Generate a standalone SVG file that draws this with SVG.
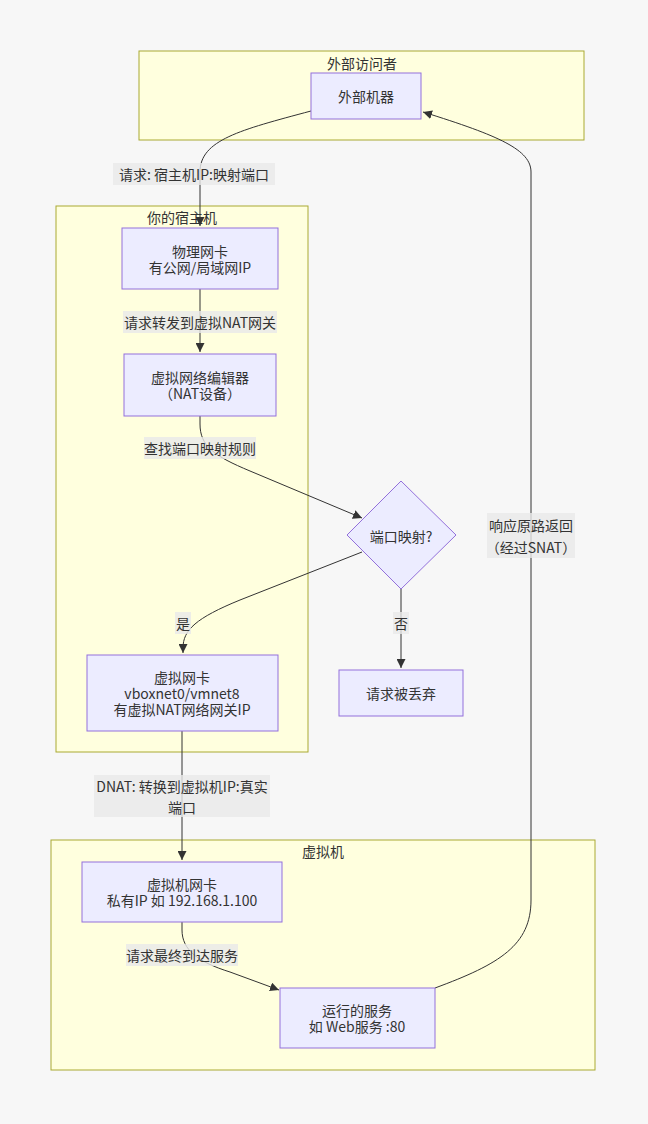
<svg xmlns="http://www.w3.org/2000/svg" width="648" height="1124" viewBox="0 0 648 1124">
<defs>
<style>
text{font-family:"Noto Sans CJK SC","Liberation Sans",sans-serif;font-size:14px;fill:#333;text-anchor:middle;dominant-baseline:central}
.cluster{fill:#ffffde;stroke:#aaaa33;stroke-width:1}
.node{fill:#ececff;stroke:#9370db;stroke-width:1}
.edge{fill:none;stroke:#333;stroke-width:1}
.lbl{fill:#e8e8e8;fill-opacity:0.8;stroke:none}
</style>
<marker id="arrow" viewBox="0 0 10 10" refX="10" refY="5" markerWidth="9" markerHeight="9" markerUnits="userSpaceOnUse" orient="auto">
<path d="M0,0 L10,5 L0,10 z" fill="#333"/>
</marker>
</defs>
<rect width="648" height="1124" fill="#f7f7f7"/>

<g id="cluster-external">
<rect class="cluster" x="139" y="51" width="445" height="89"/>
<text x="362" y="63">外部访问者</text>
</g>
<g id="cluster-host">
<rect class="cluster" x="56" y="206" width="252" height="546"/>
<text x="182" y="217">你的宿主机</text>
</g>
<g id="cluster-vm">
<rect class="cluster" x="51" y="840" width="544" height="230"/>
<text x="323" y="851">虚拟机</text>
</g>

<g id="connectors">
<path class="edge" d="M311,111 C240,130 200,140 200,172 L200,226" marker-end="url(#arrow)"/>
<path class="edge" d="M200,289 L200,352" marker-end="url(#arrow)"/>
<path class="edge" d="M200,416 L200,424 C200,446 214,456 250,471 L362,518" marker-end="url(#arrow)"/>
<path class="edge" d="M362,552 L240,600 C196,618 183,630 183,648 L183,653" marker-end="url(#arrow)"/>
<path class="edge" d="M401,589 L401,668" marker-end="url(#arrow)"/>
<path class="edge" d="M182,731 L182,860" marker-end="url(#arrow)"/>
<path class="edge" d="M182,922 L182,930 C182,950 198,962 230,972 L279,990" marker-end="url(#arrow)"/>
<path class="edge" d="M435,988 C500,964 531,945 531,900 L531,172 C531,150 500,136 423,112" marker-end="url(#arrow)"/>

<rect class="lbl" x="113" y="163" width="162" height="22"/>
<text x="194" y="174">请求: 宿主机IP:映射端口</text>
<rect class="lbl" x="123" y="311" width="154" height="22"/>
<text x="200" y="322">请求转发到虚拟NAT网关</text>
<rect class="lbl" x="144" y="437" width="112" height="22"/>
<text x="200" y="448">查找端口映射规则</text>
<rect class="lbl" x="175" y="612" width="16" height="22"/>
<text x="183" y="623">是</text>
<rect class="lbl" x="393" y="612" width="16" height="22"/>
<text x="401" y="623">否</text>
<rect class="lbl" x="94" y="775" width="176" height="42"/>
<text x="182" y="786">DNAT: 转换到虚拟机IP:真实</text>
<text x="182" y="807">端口</text>
<rect class="lbl" x="126" y="944" width="112" height="22"/>
<text x="182" y="955">请求最终到达服务</text>
<rect class="lbl" x="487" y="513" width="88" height="45"/>
<text x="531" y="525">响应原路返回</text>
<text x="531" y="547">（经过SNAT）</text>
</g>

<g id="node-external">
<rect class="node" x="311" y="73" width="110" height="46"/>
<text x="366" y="96">外部机器</text>
</g>
<g id="node-nic">
<rect class="node" x="122" y="228" width="156" height="61"/>
<text x="200" y="251">物理网卡</text>
<text x="200" y="267">有公网/局域网IP</text>
</g>
<g id="node-nat">
<rect class="node" x="124" y="354" width="152" height="62"/>
<text x="200" y="377">虚拟网络编辑器</text>
<text x="200" y="393">（NAT设备）</text>
</g>
<g id="node-decision">
<polygon class="node" points="401,481 456,535 401,589 347,535"/>
<text x="401" y="536">端口映射?</text>
</g>
<g id="node-vnic">
<rect class="node" x="87" y="655" width="191" height="76"/>
<text x="182" y="677">虚拟网卡</text>
<text x="182" y="693">vboxnet0/vmnet8</text>
<text x="182" y="709">有虚拟NAT网络网关IP</text>
</g>
<g id="node-drop">
<rect class="node" x="339" y="670" width="124" height="46"/>
<text x="401" y="693">请求被丢弃</text>
</g>
<g id="node-vmnic">
<rect class="node" x="82" y="862" width="200" height="60"/>
<text x="182" y="884">虚拟机网卡</text>
<text x="182" y="900">私有IP 如 192.168.1.100</text>
</g>
<g id="node-service">
<rect class="node" x="280" y="988" width="155" height="60"/>
<text x="357" y="1010">运行的服务</text>
<text x="357" y="1026">如 Web服务 :80</text>
</g>
</svg>
